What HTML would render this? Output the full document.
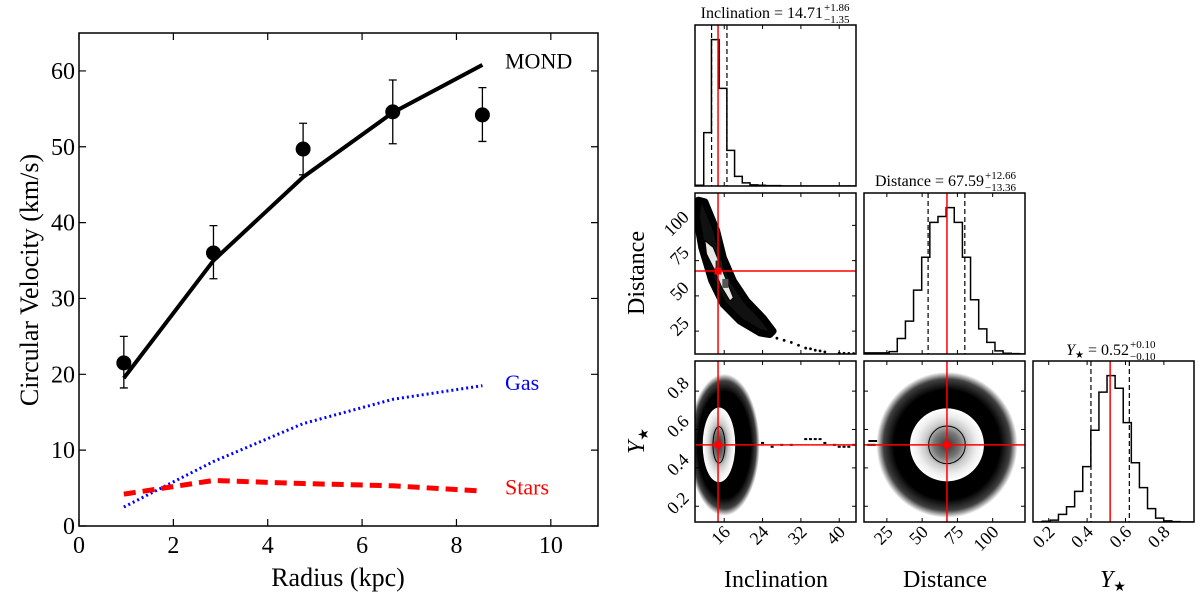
<!DOCTYPE html>
<html><head><meta charset="utf-8"><style>
html,body{margin:0;padding:0;background:#fff;}
svg{display:block;font-family:"Liberation Serif",serif;}
</style></head><body>
<svg id="fig" width="1200" height="602" viewBox="0 0 1200 602" xmlns="http://www.w3.org/2000/svg">
<defs>
<radialGradient id="gOuter"><stop offset="0" stop-color="#000" stop-opacity="1"/><stop offset="0.75" stop-color="#000" stop-opacity="1"/><stop offset="0.9" stop-color="#000" stop-opacity="0.75"/><stop offset="1" stop-color="#000" stop-opacity="0"/></radialGradient>
<radialGradient id="gInner"><stop offset="0" stop-color="#333"/><stop offset="0.35" stop-color="#777"/><stop offset="0.6" stop-color="#ccc"/><stop offset="0.8" stop-color="#eee"/><stop offset="1" stop-color="#fff"/></radialGradient>
</defs>
</svg>
<script>
// ---------- Rotation curve data ----------
const radius = [0.95, 2.85, 4.75, 6.65, 8.55];
const vobs = [21.5, 36.0, 49.7, 54.6, 54.2];
const errHi = [25.0, 39.6, 53.1, 58.8, 57.8];
const errLo = [18.2, 32.6, 46.3, 50.4, 50.7];
const mond = [19.5, 35.0, 46.0, 54.5, 60.8];
const gas = [2.5, 8.5, 13.5, 16.7, 18.5];
const stars = [4.2, 6.0, 5.6, 5.3, 4.6];
const xTicksL = [0, 2, 4, 6, 8, 10];
const yTicksL = [0, 10, 20, 30, 40, 50, 60];

// ---------- Corner plot data ----------
const inclRange = [9.9, 43.5];
const distRange = [8.8, 122.9];
const ystarRange = [0.118, 0.957];
const inclTicks = [16, 24, 32, 40];
const distTicks = [25, 50, 75, 100];
const ystarTicks = [0.2, 0.4, 0.6, 0.8];
const inclBest = [14.71, 13.36, 16.57];
const distBest = [67.59, 54.23, 80.25];
const ystarBest = [0.52, 0.42, 0.62];
const inclBinStart = 10.11, inclBinWidth = 1.61;
const inclCounts = [2, 138, 378, 252, 92, 25, 8, 3, 2, 1, 1, 0, 0, 0, 0, 0, 0, 0, 0, 0, 0];
const distBinStart = 9.3, distBinWidth = 5.77;
const distCounts = [3, 3, 3, 6, 40, 85, 165, 250, 340, 355, 378, 340, 250, 140, 65, 30, 8, 2, 1, 0];
const ystarBinStart = 0.124, ystarBinWidth = 0.0422;
const ystarCounts = [0, 2, 5, 20, 40, 80, 145, 240, 340, 383, 350, 260, 155, 90, 35, 10, 3, 1, 0, 0];
const bananaOuterIncl = [10.57, 11.97, 14.4, 15.8, 17.9, 20.7, 24.1, 26.2, 25.5, 23.5, 19.3, 15.8, 13.4, 11.3, 10.2];
const bananaOuterDist = [117.8, 116.6, 96.4, 77.3, 60.7, 46.4, 34.4, 25, 22.6, 23.7, 32.1, 44, 60.7, 84.4, 105.9];
const bananaInnerIncl = [11.97, 13.7, 15.1, 16.5, 17.9, 17.2, 15.5, 13.7, 12.3];
const bananaInnerDist = [89.2, 84.4, 72.6, 60.7, 48.7, 46.4, 55.9, 70.2, 79.7];
const tailIncl = [27, 28.5, 30, 31.5, 33, 34, 35, 36, 37, 40, 41, 42, 43];
const tailDist = [20, 18.5, 17, 15, 13, 12.5, 11.5, 11, 10.3, 9.5, 9.3, 9.2, 9.1];
const streakIncl = [22, 24, 26, 28, 30, 33, 34, 35, 36, 37, 39, 40, 41, 42, 43];
const streakYstar = [0.52, 0.53, 0.51, 0.52, 0.52, 0.55, 0.55, 0.55, 0.55, 0.53, 0.52, 0.51, 0.51, 0.51, 0.52];

const NS = 'http://www.w3.org/2000/svg';
const svg = document.getElementById('fig');
function mk(tag, attrs, parent) {
  const e = document.createElementNS(NS, tag);
  for (const k in attrs) e.setAttribute(k, attrs[k]);
  (parent || svg).appendChild(e);
  return e;
}

// ---------- Left chart ----------
const L = {x0: 79, x1: 598, y0: 526, y1: 33};
const xL = v => L.x0 + v / 11 * (L.x1 - L.x0);
const yL = v => L.y0 - v / 65 * (L.y0 - L.y1);
const left = mk('g', {});



xTicksL.forEach(t => {
  const tk = mk('path', {d: `M${xL(t)},${L.y0}v-7M${xL(t)},${L.y1}v7`, stroke: '#000', 'stroke-width': 1.2}, left);
  
  
  const tl = mk('text', {x: xL(t), y: L.y0 + 27, 'text-anchor': 'middle', 'font-size': 24}, left);
  tl.textContent = t;
  
  
});
yTicksL.forEach(t => {
  const tk = mk('path', {d: `M${L.x0},${yL(t)}h7M${L.x1},${yL(t)}h-7`, stroke: '#000', 'stroke-width': 1.2}, left);
  
  
  const tl = mk('text', {x: L.x0 - 4, y: yL(t) + 8, 'text-anchor': 'end', 'font-size': 24}, left);
  tl.textContent = t;
  
  
});

function linePath(xs, ys) { return xs.map((x, i) => (i ? 'L' : 'M') + xL(x) + ',' + yL(ys[i])).join(''); }
const gasLine = mk('path', {d: linePath(radius, gas), fill: 'none', stroke: '#0000ff', 'stroke-width': 3, 'stroke-dasharray': '2,3'}, left);


const starLine = mk('path', {d: linePath(radius, stars), fill: 'none', stroke: '#ff0000', 'stroke-width': 5, 'stroke-dasharray': '12,7'}, left);


const mondLine = mk('path', {d: linePath(radius, mond), fill: 'none', stroke: '#000', 'stroke-width': 4}, left);



radius.forEach((r, i) => {
  const eb = mk('path', {d: `M${xL(r)},${yL(errLo[i])}V${yL(errHi[i])}M${xL(r) - 4},${yL(errLo[i])}h8M${xL(r) - 4},${yL(errHi[i])}h8`, stroke: '#000', 'stroke-width': 1.3, fill: 'none'}, left);
  
  
  const pt = mk('circle', {cx: xL(r), cy: yL(vobs[i]), r: 7.5, fill: '#000'}, left);
  
  
});

const frameL = mk('rect', {x: L.x0, y: L.y1, width: L.x1 - L.x0, height: L.y0 - L.y1, fill: 'none', stroke: '#000', 'stroke-width': 1.5}, left);



[['MOND', '#000', mond[4] + 0.6, 'mond-label'], ['Gas', '#0000ff', gas[4] + 0.5, 'gas-label'], ['Stars', '#ff0000', stars[4] + 0.6, 'stars-label']].forEach(a => {
  const t = mk('text', {x: 505, y: yL(a[2]) + 8, 'font-size': 22, fill: a[1]}, left);
  t.textContent = a[0];
  
  
});
const xt = mk('text', {x: 338, y: 586, 'text-anchor': 'middle', 'font-size': 26}, left);
xt.textContent = 'Radius (kpc)';


const yt = mk('text', {x: 0, y: 0, 'text-anchor': 'middle', 'font-size': 26, transform: 'translate(38,280) rotate(-90)'}, left);
yt.textContent = 'Circular Velocity (km/s)';



// ---------- Corner plot ----------
const colX = [695, 864, 1033], rowY = [25, 193, 361], P = 161;
function sc(range, a, b) { return v => a + (v - range[0]) / (range[1] - range[0]) * (b - a); }
const xIncl = sc(inclRange, colX[0], colX[0] + P);
const xDist = sc(distRange, colX[1], colX[1] + P);
const xYst = sc(ystarRange, colX[2], colX[2] + P);
const yDist = sc(distRange, rowY[1] + P, rowY[1]);
const yYst = sc(ystarRange, rowY[2] + P, rowY[2]);

let clipId = 0;
function panel(cx, cy, name) {
  const g = mk('g', {});
  
  
  const id = 'clip' + (clipId++);
  const cp = mk('clipPath', {id: id}, svg.querySelector('defs'));
  mk('rect', {x: cx, y: cy, width: P, height: P}, cp);
  const inner = mk('g', {'clip-path': `url(#${id})`}, g);
  return {g, inner};
}
function frame(p, cx, cy) {
  const f = mk('rect', {x: cx, y: cy, width: P, height: P, fill: 'none', stroke: '#000', 'stroke-width': 1.5}, p.g);
  
  
}
function xticks(p, ticks, xs, cy, labels) {
  ticks.forEach(t => {
    const tk = mk('path', {d: `M${xs(t)},${cy + P}v-4M${xs(t)},${cy}v4`, stroke: '#000', 'stroke-width': 1}, p.g);
    
    
    if (labels) {
      const tl = mk('text', {x: 0, y: 0, 'text-anchor': 'end', 'font-size': 18, transform: `translate(${xs(t) + 7},${cy + P + 11}) rotate(-45)`}, p.g);
      tl.textContent = t;
      
      
    }
  });
}
function yticks(p, ticks, ys, cx, labels) {
  ticks.forEach(t => {
    const tk = mk('path', {d: `M${cx},${ys(t)}h4M${cx + P},${ys(t)}h-4`, stroke: '#000', 'stroke-width': 1}, p.g);
    
    
    if (labels) {
      const tl = mk('text', {x: 0, y: 0, 'text-anchor': 'end', 'font-size': 18, transform: `translate(${cx - 5},${ys(t) - 7}) rotate(-45)`}, p.g);
      tl.textContent = t;
      
      
    }
  });
}
function hist(cx, cy, xs, start, width, counts, best, ticks, labels, name) {
  const p = panel(cx, cy, name);
  const mx = Math.max(...counts) * 1.1;
  const hy = v => cy + P - v / mx * P;
  let d = `M${xs(start)},${cy + P}`;
  counts.forEach((c, i) => { d += `V${hy(c)}H${xs(start + (i + 1) * width)}`; });
  d += `V${cy + P}`;
  const h = mk('path', {d, fill: 'none', stroke: '#000', 'stroke-width': 1.5}, p.inner);
  
  
  [best[1], best[2]].forEach(q => {
    const l = mk('line', {x1: xs(q), x2: xs(q), y1: cy, y2: cy + P, stroke: '#000', 'stroke-width': 1.2, 'stroke-dasharray': '5,3'}, p.inner);
    
    
  });
  const r = mk('line', {x1: xs(best[0]), x2: xs(best[0]), y1: cy, y2: cy + P, stroke: '#ff0000', 'stroke-width': 1.5}, p.inner);
  
  
  xticks(p, ticks, xs, cy, labels);
  frame(p, cx, cy);
  return p;
}
function title(cx, cy, main, up, lo, name) {
  const g = mk('g', {});
  
  
  const t = mk('text', {x: cx, y: cy, 'font-size': 16, 'text-anchor': 'end'}, g);
  t.innerHTML = main;
  const u = mk('text', {x: cx + 1, y: cy - 7, 'font-size': 11}, g);
  u.textContent = up;
  const l = mk('text', {x: cx + 1, y: cy + 5, 'font-size': 11}, g);
  l.textContent = lo;
}

hist(colX[0], rowY[0], xIncl, inclBinStart, inclBinWidth, inclCounts, inclBest, inclTicks, false, 'inclination-histogram');
hist(colX[1], rowY[1], xDist, distBinStart, distBinWidth, distCounts, distBest, distTicks, false, 'distance-histogram');
hist(colX[2], rowY[2], xYst, ystarBinStart, ystarBinWidth, ystarCounts, ystarBest, ystarTicks, true, 'ystar-histogram');
title(823, 18, 'Inclination = 14.71', '+1.86', '−1.35', 'inclination-title');
title(984, 186, 'Distance = 67.59', '+12.66', '−13.36', 'distance-title');
title(1129, 355, '<tspan font-style="italic">Y</tspan><tspan font-size="10" dy="3">★</tspan><tspan dy="-3"> = 0.52</tspan>', '+0.10', '−0.10', 'ystar-title');

// Distance vs Inclination
{
  const cx = colX[0], cy = rowY[1];
  const p = panel(cx, cy, 'distance-vs-inclination-panel');
  const outer = bananaOuterIncl.map((v, i) => xIncl(v) + ',' + yDist(bananaOuterDist[i])).join(' ');
  const o = mk('polygon', {points: outer, fill: '#111', stroke: '#000', 'stroke-width': 7, 'stroke-linejoin': 'round'}, p.inner);
  
  
  const inner = bananaInnerIncl.map((v, i) => xIncl(v) + ',' + yDist(bananaInnerDist[i])).join(' ');
  const w = mk('polygon', {points: inner, fill: '#e8e8e8', stroke: '#000', 'stroke-width': 1}, p.inner);
  
  
  mk('rect', {x: xIncl(14.2), y: yDist(75), width: 6, height: 9, fill: '#222'}, p.inner);
  mk('rect', {x: xIncl(15.6), y: yDist(62), width: 6, height: 9, fill: '#555'}, p.inner);
  tailIncl.forEach((v, i) => {
    const d = mk('circle', {cx: xIncl(v), cy: yDist(tailDist[i]), r: 1.4, fill: '#000'}, p.inner);
    
    
  });
  mk('line', {x1: cx, x2: cx + P, y1: yDist(distBest[0]), y2: yDist(distBest[0]), stroke: '#ff0000', 'stroke-width': 1.5}, p.inner);
  mk('line', {x1: xIncl(inclBest[0]), x2: xIncl(inclBest[0]), y1: cy, y2: cy + P, stroke: '#ff0000', 'stroke-width': 1.5}, p.inner);
  const m = mk('rect', {x: xIncl(inclBest[0]) - 3.5, y: yDist(distBest[0]) - 3.5, width: 7, height: 7, fill: '#ff0000'}, p.inner);
  
  
  xticks(p, inclTicks, xIncl, cy, false);
  yticks(p, distTicks, yDist, cx, true);
  frame(p, cx, cy);
}
function blob(p, xs, ys, cxv, cyv, orx, ory, wcx, wrx, wry, crx, cry) {
  const o = mk('ellipse', {cx: xs(cxv), cy: ys(cyv), rx: Math.abs(xs(cxv + orx) - xs(cxv)), ry: Math.abs(ys(cyv + ory) - ys(cyv)), fill: 'url(#gOuter)'}, p.inner);
  
  
  const w = mk('ellipse', {cx: xs(wcx), cy: ys(cyv), rx: Math.abs(xs(wcx + wrx) - xs(wcx)), ry: Math.abs(ys(cyv + wry) - ys(cyv)), fill: 'url(#gInner)'}, p.inner);
  
  
  const c = mk('ellipse', {cx: xs(wcx), cy: ys(cyv), rx: Math.abs(xs(wcx + crx) - xs(wcx)), ry: Math.abs(ys(cyv + cry) - ys(cyv)), fill: 'none', stroke: '#000', 'stroke-width': 1}, p.inner);
  
  
}
// Ystar vs Inclination
{
  const cx = colX[0], cy = rowY[2];
  const p = panel(cx, cy, 'ystar-vs-inclination-panel');
  blob(p, xIncl, yYst, 16.0, 0.52, 7.4, 0.37, 14.9, 3.4, 0.195, 1.25, 0.095);
  streakIncl.forEach((v, i) => {
    const d = mk('rect', {x: xIncl(v) - 1.5, y: yYst(streakYstar[i]) - 1, width: 3, height: 2, fill: '#000'}, p.inner);
    
    
  });
  mk('line', {x1: cx, x2: cx + P, y1: yYst(ystarBest[0]), y2: yYst(ystarBest[0]), stroke: '#ff0000', 'stroke-width': 1.5}, p.inner);
  mk('line', {x1: xIncl(inclBest[0]), x2: xIncl(inclBest[0]), y1: cy, y2: cy + P, stroke: '#ff0000', 'stroke-width': 1.5}, p.inner);
  const m = mk('rect', {x: xIncl(inclBest[0]) - 3.5, y: yYst(ystarBest[0]) - 3.5, width: 7, height: 7, fill: '#ff0000'}, p.inner);
  
  
  xticks(p, inclTicks, xIncl, cy, true);
  yticks(p, ystarTicks, yYst, cx, true);
  frame(p, cx, cy);
}
// Ystar vs Distance
{
  const cx = colX[1], cy = rowY[2];
  const p = panel(cx, cy, 'ystar-vs-distance-panel');
  blob(p, xDist, yYst, 67.59, 0.52, 50, 0.38, 67.59, 26.2, 0.19, 13, 0.098);
  [12, 13, 14, 15, 16, 17].forEach((v, i) => {
    const d = mk('rect', {x: xDist(v) - 1.5, y: yYst(0.52 + (i % 2 ? 0.02 : 0)) - 1, width: 3, height: 2, fill: '#000'}, p.inner);
    
    
  });
  mk('line', {x1: cx, x2: cx + P, y1: yYst(ystarBest[0]), y2: yYst(ystarBest[0]), stroke: '#ff0000', 'stroke-width': 1.5}, p.inner);
  mk('line', {x1: xDist(distBest[0]), x2: xDist(distBest[0]), y1: cy, y2: cy + P, stroke: '#ff0000', 'stroke-width': 1.5}, p.inner);
  const m = mk('rect', {x: xDist(distBest[0]) - 3.5, y: yYst(ystarBest[0]) - 3.5, width: 7, height: 7, fill: '#ff0000'}, p.inner);
  
  
  xticks(p, distTicks, xDist, cy, true);
  yticks(p, ystarTicks, yYst, cx, false);
  frame(p, cx, cy);
}
// axis titles
function axTitle(x, y, html, rot, name) {
  const t = mk('text', {x: 0, y: 0, 'text-anchor': 'middle', 'font-size': 24, transform: `translate(${x},${y})` + (rot ? ' rotate(-90)' : '')});
  t.innerHTML = html;
  
  
}
axTitle(776, 587, 'Inclination', false, 'inclination-axis-title');
axTitle(945, 587, 'Distance', false, 'distance-axis-title');
axTitle(1113, 587, '<tspan font-style="italic">Y</tspan><tspan font-size="14" dy="4">★</tspan>', false, 'ystar-axis-title');
axTitle(644, 273, 'Distance', true, 'distance-y-axis-title');
axTitle(644, 441, '<tspan font-style="italic">Y</tspan><tspan font-size="14" dy="4">★</tspan>', true, 'ystar-y-axis-title');
</script>
</body></html>
